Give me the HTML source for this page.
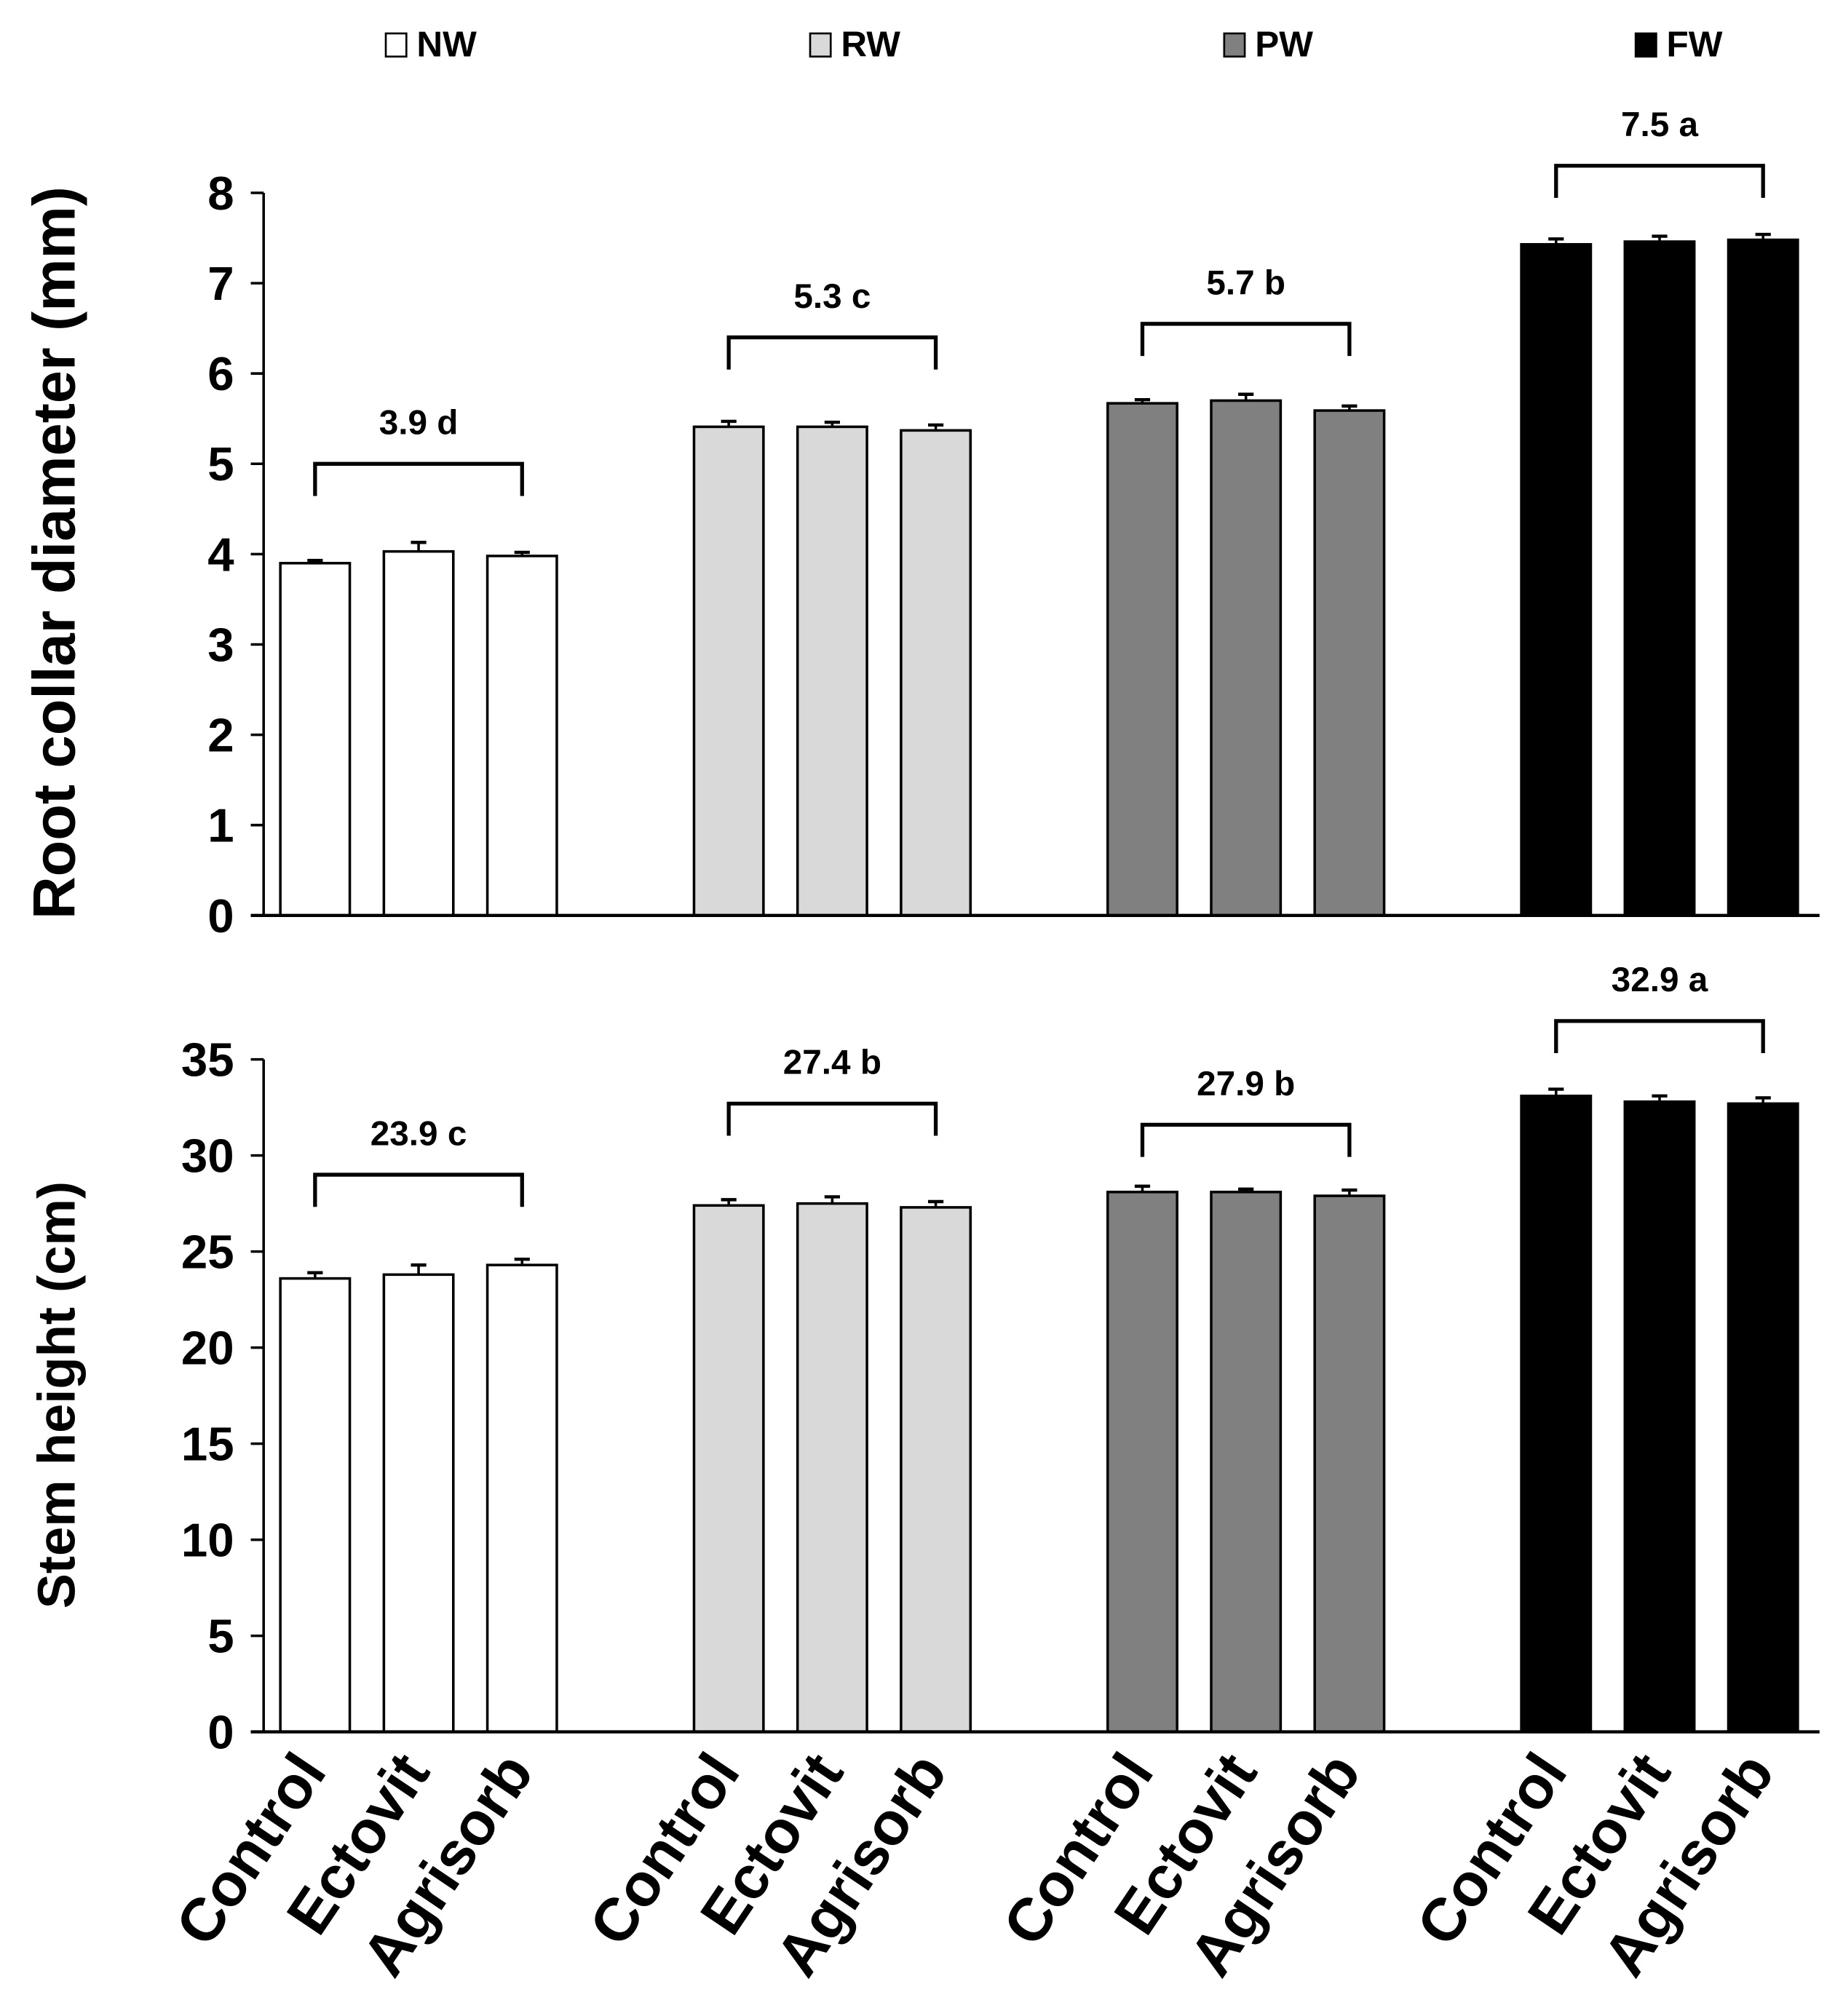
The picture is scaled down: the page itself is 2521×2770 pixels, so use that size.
<!DOCTYPE html>
<html><head><meta charset="utf-8"><style>
html,body{margin:0;padding:0;background:#fff}
svg{display:block}
text{font-family:"Liberation Sans",Arial,sans-serif;font-weight:bold;fill:#000}
</style></head><body>
<svg id="chart" width="2521" height="2770" viewBox="0 0 1427 1568"></svg>
<script>
const groups = ["NW","RW","PW","FW"];
const treatments = ["Control","Ectovit","Agrisorb"];
const fills = ["#ffffff","#d9d9d9","#808080","#000000"];
const rcdValues = [[3.90,4.03,3.98],[5.41,5.41,5.37],[5.67,5.70,5.59],[7.43,7.46,7.48]];
const rcdErrors = [[0.03,0.10,0.04],[0.06,0.05,0.06],[0.04,0.07,0.05],[0.06,0.06,0.06]];
const rcdLabels = ["3.9 d","5.3 c","5.7 b","7.5 a"];
const rcdBracketVals = [5.0,6.4,6.55,8.3];
const rcdTicks = [0,1,2,3,4,5,6,7,8];
const shValues = [[23.6,23.8,24.3],[27.4,27.5,27.3],[28.1,28.1,27.9],[33.1,32.8,32.7]];
const shErrors = [[0.3,0.5,0.3],[0.3,0.35,0.3],[0.3,0.15,0.3],[0.35,0.3,0.3]];
const shLabels = ["23.9 c","27.4 b","27.9 b","32.9 a"];
const shBracketVals = [29.0,32.7,31.6,37.0];
const shTicks = [0,5,10,15,20,25,30,35];

const svg = document.getElementById('chart');
const NS = "http://www.w3.org/2000/svg";
function mk(tag, attrs, parent){const e=document.createElementNS(NS,tag);for(const k in attrs)e.setAttribute(k,attrs[k]);(parent||svg).appendChild(e);return e;}

const axisX = 205, axisRight = 1415, barW = 54, barStep = 80.5, groupStep = 321.7, firstBar = 218;
function xBar(g,i){return firstBar + g*groupStep + i*barStep;}

const legX = [300,630,952,1272];
groups.forEach((g,k)=>{
  const r = mk('rect',{x:legX[k],y:26,width:16,height:18,fill:fills[k],stroke:'#000','stroke-width':1.5});
  
  
  const t = mk('text',{x:legX[k]+24,y:44,'font-size':28});
  t.textContent = g;
  
  
});

function panel(name, y0, yTop, maxV, ticks, values, errors, labels, bracketVals, title, titleY, titleSize, titleWeight){
  const yS = v => y0 - (v/maxV)*(y0-yTop);
  const gp = mk('g',{});
  
  
  values.forEach((arr,g)=>arr.forEach((v,i)=>{
    const x = xBar(g,i);
    const b = mk('rect',{x:x,y:yS(v),width:barW,height:y0-yS(v),fill:fills[g],stroke:'#000','stroke-width':2},gp);
    
    
    const cx = x+barW/2, ye = yS(v+errors[g][i]);
    const e1 = mk('line',{x1:cx,x2:cx,y1:yS(v),y2:ye,stroke:'#000','stroke-width':2},gp);
    
    
    mk('line',{x1:cx-6,x2:cx+6,y1:ye,y2:ye,stroke:'#000','stroke-width':2.5},gp);
  }));
  bracketVals.forEach((bv,g)=>{
    const xa = xBar(g,0)+barW/2, xb = xBar(g,2)+barW/2, yb = yS(bv);
    const p = mk('path',{d:`M${xa},${yb+25} V${yb} H${xb} V${yb+25}`,fill:'none',stroke:'#000','stroke-width':3},gp);
    
    
    const t = mk('text',{x:(xa+xb)/2,y:yb-23,'text-anchor':'middle','font-size':27},gp);
    t.textContent = labels[g];
    
    
  });
  const ya = mk('line',{x1:axisX,x2:axisX,y1:yTop,y2:y0,stroke:'#000','stroke-width':2},gp);
  
  
  const xa = mk('line',{x1:195,x2:axisRight,y1:y0,y2:y0,stroke:'#000','stroke-width':2.5},gp);
  
  
  ticks.forEach(tv=>{
    mk('line',{x1:195,x2:axisX,y1:yS(tv),y2:yS(tv),stroke:'#000','stroke-width':2},gp);
    const t = mk('text',{x:182,y:yS(tv)+13,'text-anchor':'end','font-size':37},gp);
    t.textContent = tv;
    
    
  });
  const tt = mk('text',{x:0,y:0,'text-anchor':'middle','font-size':titleSize,'font-weight':titleWeight,transform:`translate(58,${titleY}) rotate(-90)`},gp);
  tt.textContent = title;
  
  
  return yS;
}

panel('root-collar', 712, 150, 8, rcdTicks, rcdValues, rcdErrors, rcdLabels, rcdBracketVals, 'Root collar diameter (mm)', 430, 46, 'normal');
panel('stem-height', 1347, 824, 35, shTicks, shValues, shErrors, shLabels, shBracketVals, 'Stem height (cm)', 1085, 41, 'bold');

groups.forEach((g,gi)=>treatments.forEach((tr,i)=>{
  const cx = xBar(gi,i)+barW/2+10;
  const t = mk('text',{x:0,y:0,'text-anchor':'end','font-size':47,transform:`translate(${cx},${1378}) rotate(-56)`});
  t.textContent = tr;
  
  
}));
</script>
</body></html>
